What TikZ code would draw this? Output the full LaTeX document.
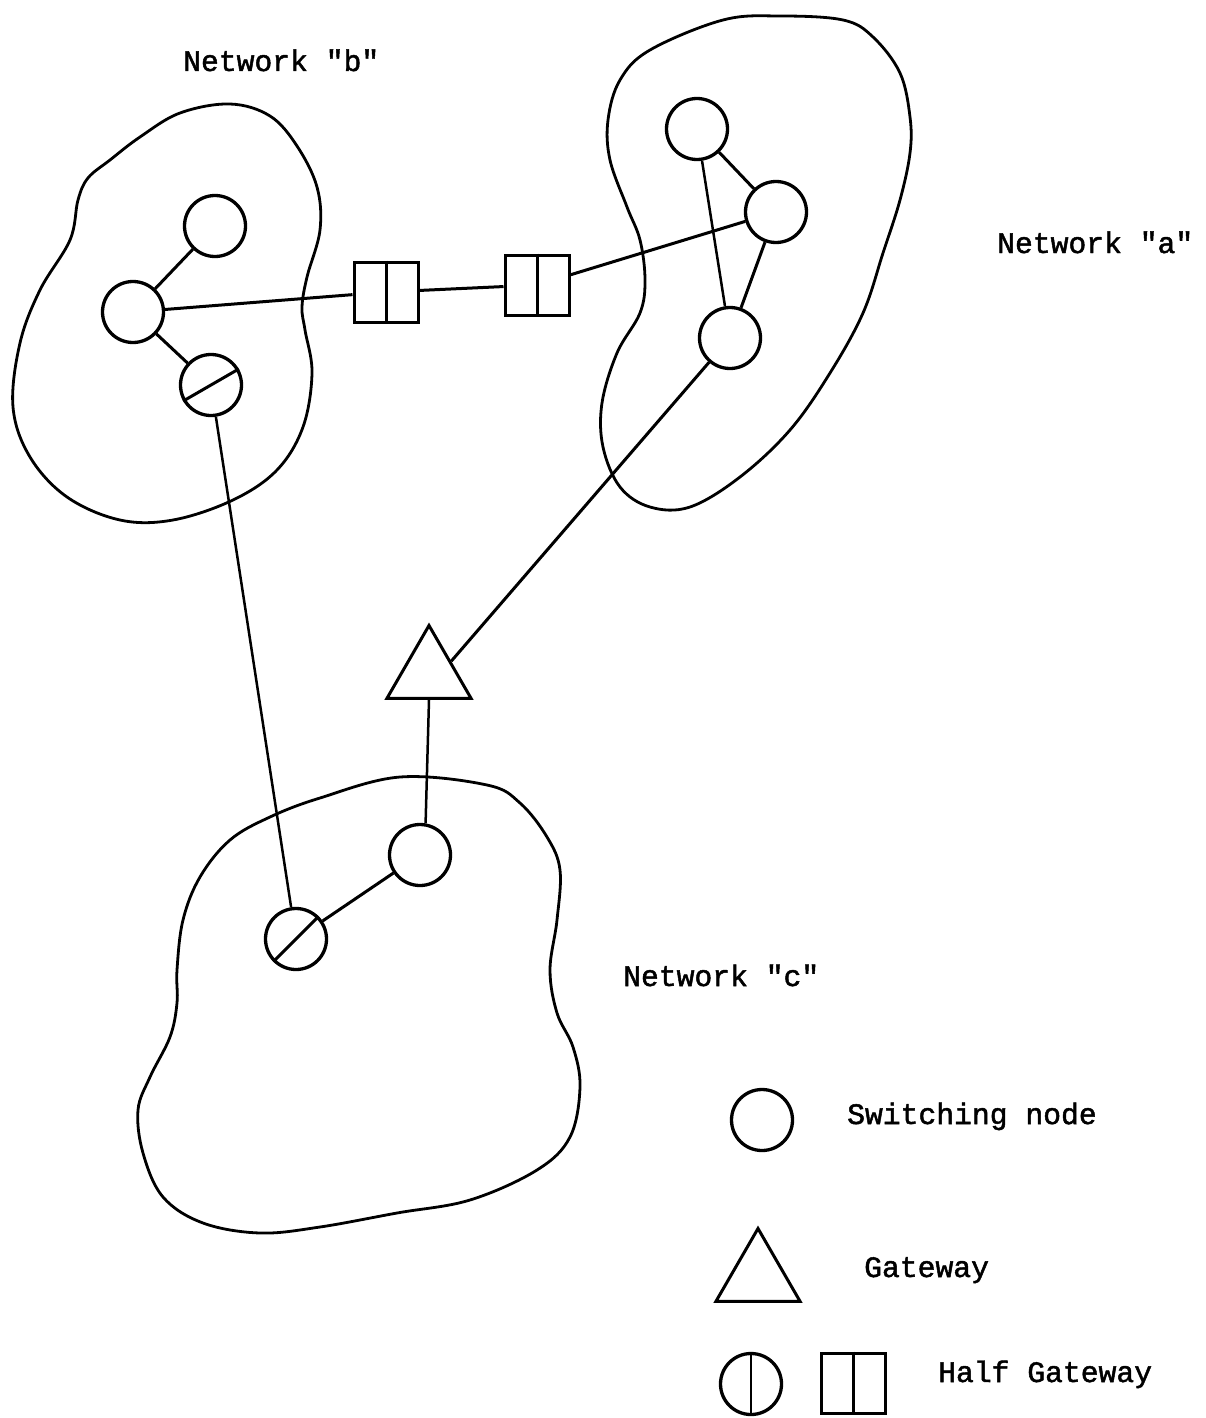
\documentclass[tikz,border=0pt]{standalone}
\usepackage{fontspec}
\newfontfamily\netfont{Liberation Mono}[FakeBold=1.6]
\usetikzlibrary{shapes.geometric}

\tikzset{
  swnode/.style={circle,draw,line width=3.3pt,minimum size=61pt,inner sep=0pt},
  halfbox/.style={rectangle,draw,line width=3pt,minimum width=64pt,minimum height=60pt,inner sep=0pt},
  gwtri/.style={regular polygon,regular polygon sides=3,draw,line width=3pt,minimum size=97pt,inner sep=0pt},
  netblob/.style={line width=2.8pt},
  link/.style={line width=3pt},
  thinlink/.style={line width=2.5pt},
  nettext/.style={font=\netfont\fontsize{29.7}{32}\selectfont,anchor=base west,inner sep=0pt}
}

\begin{document}
\begin{tikzpicture}[x=1pt,y=-1pt]

\useasboundingbox (0,0) rectangle (1206,1418);

% Network outlines
\draw[netblob] plot[smooth cycle,tension=0.6] coordinates {(230,104) (270,116) (297,146) (317,187) (320,230) (307,277) (302,307) (305,330) (312,373) (303,427) (277,470) (233,500) (173,520) (120,520) (67,497) (30,457) (13,407) (20,343) (40,290) (70,240) (78,200) (88,178) (110,160) (140,137) (180,113)};
\draw[netblob] plot[smooth cycle,tension=0.6] coordinates {(780,16) (843,20) (873,37) (900,73) (910,117) (910,153) (900,200) (883,253) (863,313) (830,373) (790,430) (740,477) (690,507) (650,507) (620,487) (603,447) (602,403) (617,353) (640,313) (645,280) (640,240) (627,207) (610,160) (608,120) (620,80) (650,50) (723,20)};
\draw[netblob] plot[smooth cycle,tension=0.6] coordinates {(400,777) (487,785) (520,803) (547,837) (560,870) (557,920) (550,970) (557,1013) (573,1047) (580,1087) (570,1137) (537,1170) (470,1200) (397,1213) (320,1227) (260,1233) (203,1223) (163,1197) (143,1153) (138,1110) (150,1077) (170,1037) (177,1003) (177,970) (183,920) (200,877) (230,840) (270,817) (320,798)};

% Network "b"
\node[swnode] (b1) at (215,226) {};
\node[swnode] (b2) at (133,312) {};
\node[swnode] (b3) at (211,385) {};
\draw[link] (b3.210) -- (b3.30);

% half gateways between "b" and "a"
\node[halfbox] (h1) at (386,292) {};
\draw[link] (h1.north) -- (h1.south);
\node[halfbox] (h2) at (537,285) {};
\draw[link] (h2.north) -- (h2.south);

% Network "a"
\node[swnode] (a1) at (697,129) {};
\node[swnode] (a2) at (776,212) {};
\node[swnode] (a3) at (730,338) {};

% Gateway
\node[gwtri] (gw) at (429,674) {};

% Network "c"
\node[swnode] (c1) at (296,939) {};
\draw[link] (c1.225) -- (c1.45);
\node[swnode] (c2) at (420,855) {};

% Links
\draw[link] (b1) -- (b2);
\draw[link] (b2) -- (b3);
\draw[link] (b2) -- (h1);
\draw[link] (h1) -- (h2);
\draw[link] (h2) -- (a2);
\draw[link] (a1) -- (a2);
\draw[link] (a2) -- (a3);
\draw[thinlink] (a1) -- (a3);
\draw[link] (a3) -- (gw.side 3);
\draw[thinlink] (c2.80) -- (gw.side 2);
\draw[thinlink] (b3) -- (c1);
\draw[link] (c1) -- (c2);

% Labels
\node[nettext] (tb) at (183,71) {Network "b"};
\node[nettext] (ta) at (997,253) {Network "a"};
\node[nettext] (tc) at (623,986) {Network "c"};

% Legend
\node[swnode] (lsw) at (762,1120) {};
\node[nettext] (tsw) at (847,1124) {Switching node};
\node[gwtri] (lgw) at (758,1277) {};
\node[nettext] (tgw) at (864,1277) {Gateway};
\node[swnode] (lhc) at (751,1384) {};
\draw[thinlink] (lhc.north) -- (lhc.south);
\node[halfbox] (lhb) at (853,1383) {};
\draw[link] (lhb.north) -- (lhb.south);
\node[nettext] (thg) at (938,1382) {Half Gateway};

\end{tikzpicture}
\end{document}
